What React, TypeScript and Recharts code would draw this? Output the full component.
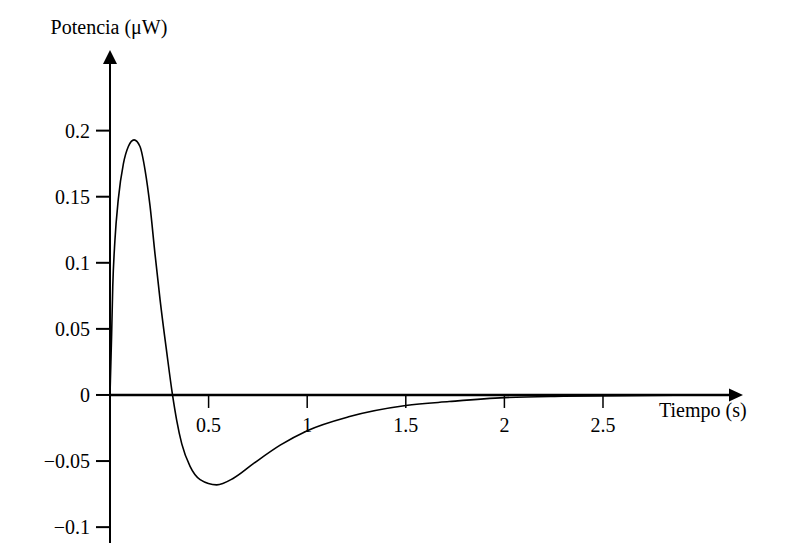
import { LineChart, Line, XAxis, YAxis, ReferenceLine } from 'recharts';

// time (s) and power (µW)
const tiempo = [0, 0.004, 0.008, 0.014, 0.025, 0.042, 0.068, 0.093, 0.122, 0.152, 0.178, 0.203, 0.228, 0.254, 0.288, 0.317, 0.338, 0.364, 0.406, 0.457, 0.541, 0.626, 0.727, 0.863, 1.0, 1.21, 1.5, 1.72, 2.0, 2.3, 2.6, 3.0];
const potencia = [0, 0.022, 0.044, 0.082, 0.117, 0.148, 0.175, 0.188, 0.193, 0.188, 0.17, 0.143, 0.107, 0.072, 0.032, 0, -0.019, -0.037, -0.054, -0.064, -0.068, -0.063, -0.052, -0.038, -0.027, -0.0165, -0.008, -0.005, -0.002, -0.001, -0.0005, 0];

const xTicks = [0.5, 1, 1.5, 2, 2.5];
const xTickLabels = ['0.5', '1', '1.5', '2', '2.5'];
const yTicks = [-0.1, -0.05, 0, 0.05, 0.1, 0.15, 0.2];
const yTickLabels = ['\u22120.1', '\u22120.05', '0', '0.05', '0.1', '0.15', '0.2'];

const X_DOMAIN: [number, number] = [0, 3.21];
const Y_DOMAIN: [number, number] = [-0.112, 0.261];

const W = 803;
const H = 551;
const MARGIN = { top: 50, right: 60, left: 0, bottom: 0 };
const Y_AXIS_W = 110;
const X_AXIS_H = 8;
const PLOT_H = H - MARGIN.top - MARGIN.bottom - X_AXIS_H;
// pixel row of the value 0, from the y domain
const ZERO_Y = MARGIN.top + ((Y_DOMAIN[1] - 0) / (Y_DOMAIN[1] - Y_DOMAIN[0])) * PLOT_H;

const FONT = '"Liberation Serif", "DejaVu Serif", serif';
const FS = 20;

const data = tiempo.map((t, i) => ({ t, p: potencia[i] }));

function XTick(props: any) {
  const { x, payload } = props;
  const idx = xTicks.indexOf(payload.value);
  return (
    <g>
      <line x1={x} x2={x} y1={ZERO_Y} y2={ZERO_Y + 13} stroke="#000" strokeWidth={1.5} />
      <text x={x} y={ZERO_Y + 37} textAnchor="middle" fontFamily={FONT} fontSize={FS} fill="#000">
        {idx >= 0 ? xTickLabels[idx] : payload.value}
      </text>
    </g>
  );
}

// horizontal axis through zero with an arrow and its title
function XAxisArrow(props: any) {
  const { x1, x2, y1 } = props;
  const left = Math.min(x1, x2);
  const right = Math.max(x1, x2);
  return (
    <g>
      <line x1={left} x2={right - 10} y1={y1} y2={y1} stroke="#000" strokeWidth={2.5} />
      <polygon points={`${right},${y1} ${right - 14},${y1 - 6.5} ${right - 14},${y1 + 6.5}`} fill="#000" />
      <text x={right - 84} y={y1 + 22} fontFamily={FONT} fontSize={FS} fill="#000">
        Tiempo (s)
      </text>
    </g>
  );
}

// vertical axis with an arrow and its title
function YAxisArrow(props: any) {
  const { x1, y1, y2 } = props;
  const top = Math.min(y1, y2);
  const bottom = Math.max(y1, y2);
  return (
    <g>
      <line x1={x1} x2={x1} y1={top + 10} y2={bottom} stroke="#000" strokeWidth={2} />
      <polygon points={`${x1},${top} ${x1 - 7},${top + 14} ${x1 + 7},${top + 14}`} fill="#000" />
      <text x={x1 - 1} y={top - 16} textAnchor="middle" fontFamily={FONT} fontSize={FS} fill="#000">
        Potencia (μW)
      </text>
    </g>
  );
}

export default function App() {
  return (
    <div style={{ position: 'absolute', left: 0, top: 0, width: W, height: H, background: '#fff' }}>
      <LineChart width={W} height={H} data={data} margin={MARGIN}>
        <XAxis
          type="number"
          dataKey="t"
          domain={X_DOMAIN}
          ticks={xTicks}
          axisLine={false}
          tickLine={false}
          height={X_AXIS_H}
          tick={<XTick />}
          allowDataOverflow
        />
        <YAxis
          type="number"
          domain={Y_DOMAIN}
          ticks={yTicks}
          width={Y_AXIS_W}
          axisLine={false}
          tickSize={14}
          tickMargin={6}
          tickLine={{ stroke: '#000', strokeWidth: 2 }}
          tick={{ fill: '#000', fontSize: FS, fontFamily: FONT }}
          tickFormatter={(v: number) => yTickLabels[yTicks.indexOf(v)] ?? String(v)}
          allowDataOverflow
        />
        <ReferenceLine y={0} shape={<XAxisArrow />} />
        <ReferenceLine x={0} shape={<YAxisArrow />} />
        <Line
          type="monotone"
          dataKey="p"
          stroke="#000"
          strokeWidth={1.6}
          dot={false}
          isAnimationActive={false}
        />
      </LineChart>
    </div>
  );
}
